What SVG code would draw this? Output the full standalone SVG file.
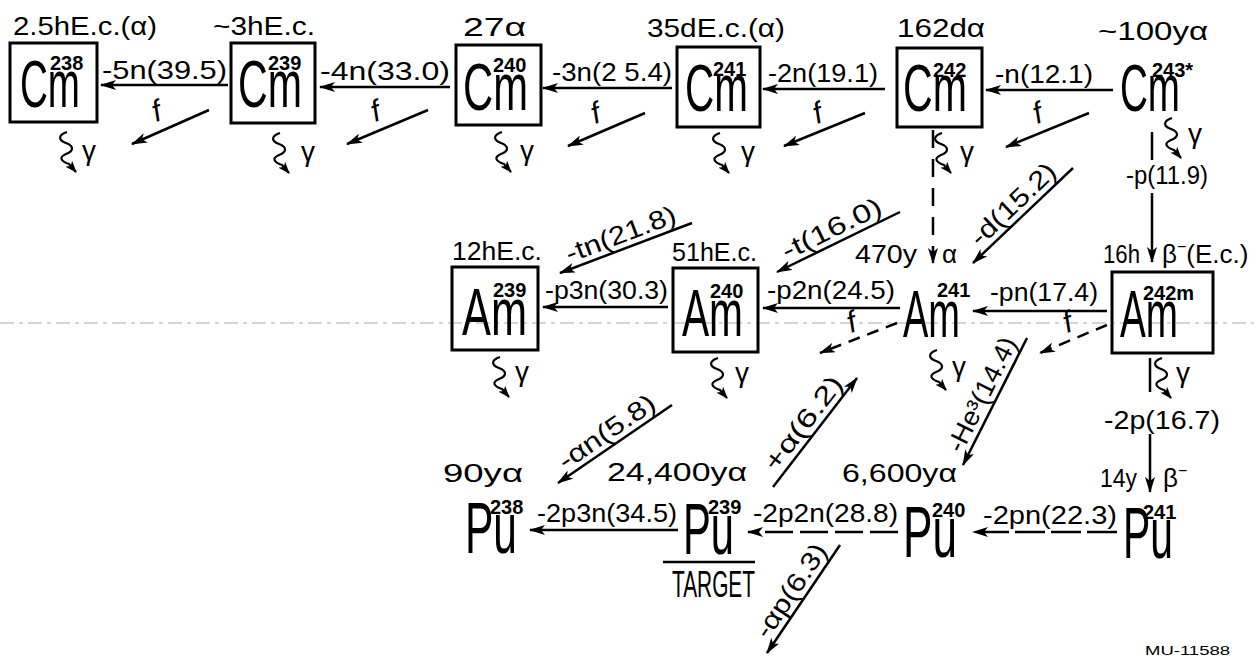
<svg xmlns="http://www.w3.org/2000/svg" xmlns:xlink="http://www.w3.org/1999/xlink" width="1254" height="656" viewBox="0 0 1254 656">
<defs>
<style>
text{font-family:"Liberation Sans","DejaVu Sans",sans-serif;fill:#000}
.box{fill:none;stroke:#000;stroke-width:3}
.ln{fill:none;stroke:#000;stroke-width:2.5}
.dl{fill:none;stroke:#000;stroke-width:2.5;stroke-dasharray:12 8}
.sym{font-size:66px}
.pu{font-size:72px}
.sup{font-size:20px;font-weight:bold}
.lbl{font-size:26px}
.g{font-size:28px}
.f{font-size:30px;font-style:italic}
.sq{fill:none;stroke:#000;stroke-width:2.2}
</style>
<marker id="ah" viewBox="0 0 16 10" refX="15" refY="5" markerWidth="16" markerHeight="10" markerUnits="userSpaceOnUse" orient="auto"><path d="M0,0 L16,5 L0,10 L4,5 z" fill="#000"/></marker>
<marker id="as" viewBox="0 0 12 9" refX="11" refY="4.5" markerWidth="12" markerHeight="9" markerUnits="userSpaceOnUse" orient="auto"><path d="M0,0 L12,4.5 L0,9 L3,4.5 z" fill="#000"/></marker>
<path id="sqp" class="sq" d="M0,0 c-9,3 -9,8 -1,11 c8,3 8,8 0,11 c-7,3 -6,7 3,10 l7,8" marker-end="url(#as)"/>
</defs>
<rect width="1254" height="656" fill="#fff"/>
<line x1="0" y1="323" x2="1254" y2="323" stroke="#aaa" stroke-width="1.2" stroke-dasharray="14 5 4 5"/>

<g id="Cm238">
<rect class="box" x="10" y="43" width="87" height="79"/>
<text class="sym" x="20" y="107"><tspan textLength="60" lengthAdjust="spacingAndGlyphs">Cm</tspan><tspan class="sup" x="50" y="70">238</tspan></text>
<text class="lbl" x="13" y="35" textLength="144" lengthAdjust="spacingAndGlyphs">2.5hE.c.(α)</text>
<use xlink:href="#sqp" transform="translate(67,132)"/>
<text class="g" x="82" y="160">γ</text>
</g>

<g id="Cm239">
<rect class="box" x="231" y="43" width="84" height="80"/>
<text class="sym" x="238" y="107"><tspan textLength="64" lengthAdjust="spacingAndGlyphs">Cm</tspan><tspan class="sup" x="268" y="70">239</tspan></text>
<text class="lbl" x="213" y="35" textLength="102" lengthAdjust="spacingAndGlyphs">~3hE.c.</text>
<use xlink:href="#sqp" transform="translate(280,133)"/>
<text class="g" x="301" y="161">γ</text>
</g>

<g id="Cm240">
<rect class="box" x="456" y="45" width="85" height="80"/>
<text class="sym" x="463" y="110"><tspan textLength="65" lengthAdjust="spacingAndGlyphs">Cm</tspan><tspan class="sup" x="493" y="72">240</tspan></text>
<text class="lbl" x="463" y="36" textLength="63" lengthAdjust="spacingAndGlyphs">27α</text>
<use xlink:href="#sqp" transform="translate(502,132)"/>
<text class="g" x="520" y="160">γ</text>
</g>

<g id="Cm241">
<rect class="box" x="677" y="47" width="83" height="80"/>
<text class="sym" x="685" y="111"><tspan textLength="63" lengthAdjust="spacingAndGlyphs">Cm</tspan><tspan class="sup" x="713" y="76">241</tspan></text>
<text class="lbl" x="647" y="37" textLength="138" lengthAdjust="spacingAndGlyphs">35dE.c.(α)</text>
<use xlink:href="#sqp" transform="translate(720,133)"/>
<text class="g" x="741" y="161">γ</text>
</g>

<g id="Cm242">
<rect class="box" x="897" y="48" width="85" height="79"/>
<text class="sym" x="903" y="111"><tspan textLength="64" lengthAdjust="spacingAndGlyphs">Cm</tspan><tspan class="sup" x="933" y="77">242</tspan></text>
<text class="lbl" x="897" y="37" textLength="88" lengthAdjust="spacingAndGlyphs">162dα</text>
<use xlink:href="#sqp" transform="translate(942,133)"/>
<text class="g" x="960" y="161">γ</text>
</g>

<g id="Cm243">
<text class="sym" x="1120" y="111"><tspan textLength="60" lengthAdjust="spacingAndGlyphs">Cm</tspan><tspan class="sup" x="1152" y="77">243*</tspan></text>
<text class="lbl" x="1098" y="40" textLength="110" lengthAdjust="spacingAndGlyphs">~100yα</text>
<use xlink:href="#sqp" transform="translate(1172,118)"/>
<text class="g" x="1188" y="143">γ</text>
</g>

<g id="Am239">
<rect class="box" x="452" y="267" width="86" height="83"/>
<text class="sym" x="462" y="335"><tspan textLength="65" lengthAdjust="spacingAndGlyphs">Am</tspan><tspan class="sup" x="493" y="297">239</tspan></text>
<text class="lbl" x="452" y="260" textLength="90" lengthAdjust="spacingAndGlyphs">12hE.c.</text>
<use xlink:href="#sqp" transform="translate(500,357)"/>
<text class="g" x="515" y="381">γ</text>
</g>

<g id="Am240">
<rect class="box" x="673" y="268" width="85" height="84"/>
<text class="sym" x="682" y="336"><tspan textLength="61" lengthAdjust="spacingAndGlyphs">Am</tspan><tspan class="sup" x="710" y="298">240</tspan></text>
<text class="lbl" x="672" y="261" textLength="85" lengthAdjust="spacingAndGlyphs">51hE.c.</text>
<use xlink:href="#sqp" transform="translate(718,358)"/>
<text class="g" x="735" y="382">γ</text>
</g>

<g id="Am241">
<text class="sym" x="903" y="337"><tspan textLength="57" lengthAdjust="spacingAndGlyphs">Am</tspan><tspan class="sup" x="937" y="297">241</tspan></text>
<text class="lbl" x="855" y="263"><tspan textLength="62" lengthAdjust="spacingAndGlyphs">470y</tspan><tspan x="942">α</tspan></text>
<use xlink:href="#sqp" transform="translate(937,350)"/>
<text class="g" x="952" y="376">γ</text>
</g>

<g id="Am242m">
<rect class="box" x="1112" y="272" width="101" height="81"/>
<text class="sym" x="1120" y="337"><tspan textLength="58" lengthAdjust="spacingAndGlyphs">Am</tspan><tspan class="sup" x="1143" y="300">242m</tspan></text>
<text class="lbl" x="1103" y="263"><tspan textLength="37" lengthAdjust="spacingAndGlyphs">16h</tspan><tspan x="1162">β</tspan><tspan dy="-11" font-size="16">−</tspan><tspan dy="11">(E.c.)</tspan></text>
<use xlink:href="#sqp" transform="translate(1162,358)"/>
<text class="g" x="1176" y="382">γ</text>
</g>

<g id="Pu238">
<text class="pu" x="465" y="553"><tspan textLength="52" lengthAdjust="spacingAndGlyphs">Pu</tspan><tspan class="sup" x="490" y="514">238</tspan></text>
<text class="lbl" x="443" y="482" textLength="80" lengthAdjust="spacingAndGlyphs">90yα</text>
</g>

<g id="Pu239">
<text class="pu" x="683" y="554"><tspan textLength="51" lengthAdjust="spacingAndGlyphs">Pu</tspan><tspan class="sup" x="708" y="514">239</tspan><tspan x="672" y="597" font-size="36" textLength="83" lengthAdjust="spacingAndGlyphs">TARGET</tspan></text>
<line class="ln" x1="663" y1="562" x2="755" y2="562"/>
<text class="lbl" x="607" y="481" textLength="140" lengthAdjust="spacingAndGlyphs">24,400yα</text>
</g>

<g id="Pu240">
<text class="pu" x="903" y="557"><tspan textLength="54" lengthAdjust="spacingAndGlyphs">Pu</tspan><tspan class="sup" x="932" y="517">240</tspan></text>
<text class="lbl" x="842" y="482" textLength="115" lengthAdjust="spacingAndGlyphs">6,600yα</text>
</g>

<g id="Pu241">
<text class="pu" x="1123" y="558"><tspan textLength="50" lengthAdjust="spacingAndGlyphs">Pu</tspan><tspan class="sup" x="1143" y="519">241</tspan></text>
<text class="lbl" x="1100" y="487"><tspan textLength="37" lengthAdjust="spacingAndGlyphs">14y</tspan><tspan x="1163">β</tspan><tspan dy="-11" font-size="16">−</tspan></text>
</g>

<g id="connectors">
<line class="ln" x1="228" y1="85" x2="101" y2="85" marker-end="url(#ah)"/>
<line class="ln" x1="450" y1="87" x2="320" y2="87" marker-end="url(#ah)"/>
<line class="ln" x1="672" y1="88" x2="543" y2="88" marker-end="url(#ah)"/>
<line class="ln" x1="885" y1="89" x2="763" y2="89" marker-end="url(#ah)"/>
<line class="ln" x1="1113" y1="90" x2="986" y2="90" marker-end="url(#ah)"/>
<line class="ln" x1="209" y1="110" x2="132" y2="144" marker-end="url(#ah)"/>
<line class="ln" x1="428" y1="110" x2="347" y2="144" marker-end="url(#ah)"/>
<line class="ln" x1="645" y1="113" x2="568" y2="146" marker-end="url(#ah)"/>
<line class="ln" x1="865" y1="113" x2="784" y2="146" marker-end="url(#ah)"/>
<line class="ln" x1="1089" y1="113" x2="1006" y2="147" marker-end="url(#ah)"/>
<line class="ln" x1="933" y1="130" x2="933" y2="263" stroke-dasharray="18 11" marker-end="url(#ah)"/>
<line class="ln" x1="1152" y1="132" x2="1152" y2="160"/>
<line class="ln" x1="1152" y1="193" x2="1152" y2="262" marker-end="url(#ah)"/>
<line class="ln" x1="1150" y1="358" x2="1150" y2="392"/>
<line class="ln" x1="1150" y1="434" x2="1150" y2="492" marker-end="url(#ah)"/>
<line class="ln" x1="692" y1="223" x2="560" y2="273" marker-end="url(#ah)"/>
<line class="ln" x1="900" y1="212" x2="777" y2="272" marker-end="url(#ah)"/>
<line class="ln" x1="1073" y1="168" x2="973" y2="263" marker-end="url(#ah)"/>
<line class="ln" x1="668" y1="307" x2="543" y2="307" marker-end="url(#ah)"/>
<line class="ln" x1="900" y1="308" x2="763" y2="308" marker-end="url(#ah)"/>
<line class="ln" x1="1107" y1="311" x2="973" y2="311" marker-end="url(#ah)"/>
<line class="dl" x1="897" y1="323" x2="820" y2="353" marker-end="url(#ah)"/>
<line class="dl" x1="1107" y1="325" x2="1040" y2="353" marker-end="url(#ah)"/>
<line class="ln" x1="672" y1="405" x2="558" y2="483" marker-end="url(#ah)"/>
<line class="ln" x1="773" y1="487" x2="857" y2="378" marker-end="url(#ah)"/>
<line class="ln" x1="1027" y1="338" x2="963" y2="465" marker-end="url(#ah)"/>
<line class="ln" x1="840" y1="545" x2="767" y2="653" marker-end="url(#ah)"/>
<line class="ln" x1="678" y1="530" x2="530" y2="530" marker-end="url(#ah)"/>
<line class="ln" x1="898" y1="532" x2="748" y2="532" stroke-dasharray="28 7" marker-end="url(#ah)"/>
<line class="ln" x1="1117" y1="532" x2="973" y2="532" stroke-dasharray="30 6" marker-end="url(#ah)"/>
</g>

<g id="edge-labels">
<text class="lbl" x="102" y="79" textLength="125" lengthAdjust="spacingAndGlyphs">-5n(39.5)</text>
<text class="lbl" x="320" y="80" textLength="130" lengthAdjust="spacingAndGlyphs">-4n(33.0)</text>
<text class="lbl" x="552" y="81" textLength="120" lengthAdjust="spacingAndGlyphs">-3n(2 5.4)</text>
<text class="lbl" x="768" y="82" textLength="110" lengthAdjust="spacingAndGlyphs">-2n(19.1)</text>
<text class="lbl" x="995" y="83" textLength="98" lengthAdjust="spacingAndGlyphs">-n(12.1)</text>
<text class="f" transform="translate(156,122) rotate(-20)">f</text>
<text class="f" transform="translate(375,122) rotate(-20)">f</text>
<text class="f" transform="translate(595,124) rotate(-20)">f</text>
<text class="f" transform="translate(817,124) rotate(-20)">f</text>
<text class="f" transform="translate(1037,124) rotate(-20)">f</text>
<text class="f" transform="translate(851,333) rotate(-20)" font-size="24">f</text>
<text class="f" transform="translate(1067,333) rotate(-20)" font-size="24">f</text>
<text class="lbl" x="1126" y="184" textLength="82" lengthAdjust="spacingAndGlyphs">-p(11.9)</text>
<text class="lbl" x="1104" y="429" textLength="116" lengthAdjust="spacingAndGlyphs">-2p(16.7)</text>
<text class="lbl" x="545" y="299" textLength="123" lengthAdjust="spacingAndGlyphs">-p3n(30.3)</text>
<text class="lbl" x="767" y="299" textLength="128" lengthAdjust="spacingAndGlyphs">-p2n(24.5)</text>
<text class="lbl" x="990" y="301" textLength="108" lengthAdjust="spacingAndGlyphs">-pn(17.4)</text>
<text class="lbl" x="537" y="522" textLength="140" lengthAdjust="spacingAndGlyphs">-2p3n(34.5)</text>
<text class="lbl" x="753" y="522" textLength="145" lengthAdjust="spacingAndGlyphs">-2p2n(28.8)</text>
<text class="lbl" x="983" y="524" textLength="134" lengthAdjust="spacingAndGlyphs">-2pn(22.3)</text>
<g text-anchor="middle">
<text class="lbl" transform="translate(626,248) rotate(-20.7)" x="0" y="-6" textLength="116" lengthAdjust="spacingAndGlyphs">-tn(21.8)</text>
<text class="lbl" transform="translate(838,242) rotate(-26)" x="0" y="-6" textLength="108" lengthAdjust="spacingAndGlyphs">-t(16.0)</text>
<text class="lbl" transform="translate(1023,215) rotate(-43.5)" x="0" y="-6" textLength="108" lengthAdjust="spacingAndGlyphs">-d(15.2)</text>
<text class="lbl" transform="translate(615,444) rotate(-34.4)" x="0" y="-6" textLength="112" lengthAdjust="spacingAndGlyphs">-αn(5.8)</text>
<text class="lbl" transform="translate(815,432) rotate(-52.4)" x="0" y="-6" textLength="112" lengthAdjust="spacingAndGlyphs">+α(6.2)</text>
<text class="lbl" transform="translate(995,401) rotate(-63.3)" x="0" y="-6" textLength="125" lengthAdjust="spacingAndGlyphs">-He³(14.4)</text>
<text class="lbl" transform="translate(803,599) rotate(-55.9)" x="0" y="-6" textLength="108" lengthAdjust="spacingAndGlyphs">-αp(6.3)</text>
</g>
</g>

<text x="1145" y="655" font-size="13" fill="#444" textLength="85" lengthAdjust="spacingAndGlyphs">MU-11588</text>
</svg>
